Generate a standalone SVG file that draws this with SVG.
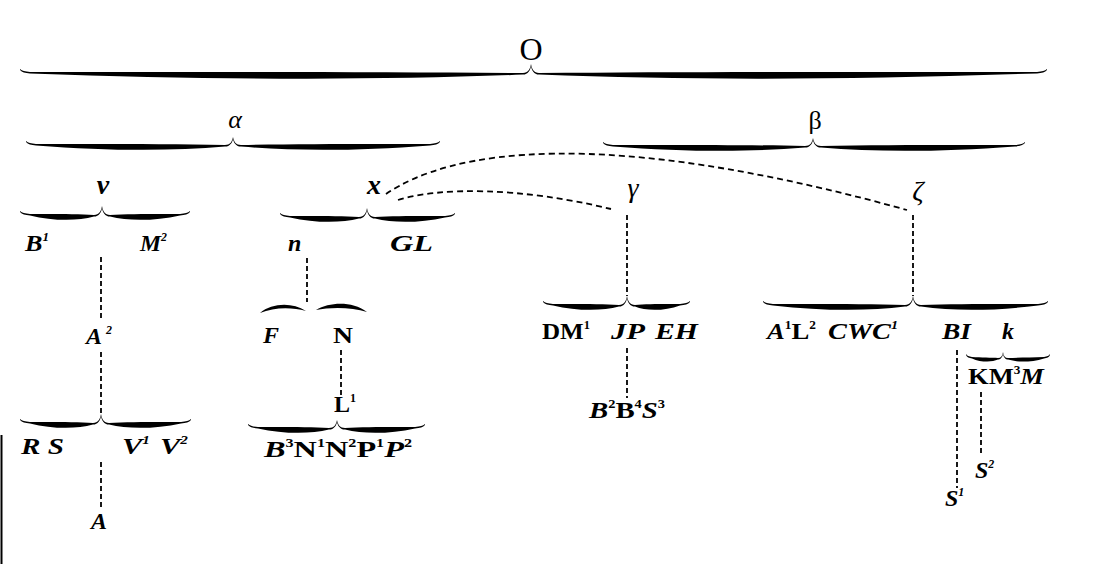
<svg xmlns="http://www.w3.org/2000/svg" width="1093" height="564" viewBox="0 0 1093 564">
<style>
.t{font-family:"Liberation Serif","Times New Roman",serif;font-weight:bold;font-size:24px;fill:#000}
.i{font-style:italic}
.s{font-size:12px}
.g{font-family:"Liberation Serif","Times New Roman",serif;font-size:28px;fill:#000}
.br{fill:#000}
.d{stroke:#000;stroke-width:1.8;fill:none;stroke-dasharray:6 4}
.v{stroke:#000;stroke-width:1.8;fill:none;stroke-dasharray:5 3}
</style>
<rect width="1093" height="564" fill="#fff"/>
<g id="connectors">
<path class="d" d="M386,194 C450,150 600,125 907,210"/>
<path class="d" d="M398,200 C440,187 520,187 611,209"/>
<line class="v" x1="101" y1="257" x2="101" y2="318"/>
<line class="v" x1="101" y1="352" x2="101" y2="413"/>
<line class="v" x1="101" y1="462" x2="101" y2="507"/>
<line class="v" x1="307" y1="258" x2="307" y2="302"/>
<line class="v" x1="341" y1="350" x2="341" y2="395"/>
<line class="v" x1="627" y1="215" x2="627" y2="296"/>
<line class="v" x1="913" y1="215" x2="913" y2="296"/>
<line class="v" x1="627" y1="348" x2="627" y2="398"/>
<line class="v" x1="957" y1="350" x2="957" y2="488"/>
<line class="v" x1="981" y1="392" x2="981" y2="456"/>
</g>
<g id="node-O">
<text class="g" x="531" y="60" text-anchor="middle" style="font-size:32px">O</text>
<path class="br" d="M531,64 C530,69.5 528,73 523,73 C377.7,71.8 224.4,71.8 30,72 C25,71.5 22,71 20,69 L20,70 C22,72.2 25,73.2 30,73.4 C224.4,80.2 377.7,80.2 523,74.6 C528,74.6 530.5,70 531,66 Z M531,64 C532,69.5 534,73 539,73 C685.8,71.8 840.6,71.8 1037,72 C1042,71.5 1045,71 1047,69 L1047,70 C1045,72.2 1042,73.2 1037,73.4 C840.6,80.2 685.8,80.2 539,74.6 C534,74.6 531.5,70 531,66 Z"/>
</g>
<g id="node-alpha">
<text class="g i" x="235" y="128" text-anchor="middle" style="font-size:26px">α</text>
<path class="br" d="M233,137 C232,142 230,145 225,145 C170.9,143.9 108.8,143.9 36,144 C31,143.5 28,143 26,141 L26,142 C28,144.2 31,145.2 36,145.4 C108.8,151.1 170.9,151.1 225,146.6 C230,146.6 232.5,142.4 233,139 Z M233,137 C234,142 236,145 241,145 C295.1,143.9 357.2,143.9 430,144 C435,143.5 438,143 440,141 L440,142 C438,144.2 435,145.2 430,145.4 C357.2,151.1 295.1,151.1 241,146.6 C236,146.6 233.5,142.4 233,139 Z"/>
</g>
<g id="node-beta">
<text class="g" x="815" y="129" text-anchor="middle" style="font-size:26px">β</text>
<path class="br" d="M813,138 C812,143 810,146 805,146 C750,144.9 687,144.9 613,145 C608,144.5 605,144 603,142 L603,143 C605,145.2 608,146.2 613,146.4 C687,152.1 750,152.1 805,147.6 C810,147.6 812.5,143.4 813,140 Z M813,138 C814,143 816,146 821,146 C876.6,144.9 940.2,144.9 1015,145 C1020,144.5 1023,144 1025,142 L1025,143 C1023,145.2 1020,146.2 1015,146.4 C940.2,152.1 876.6,152.1 821,147.6 C816,147.6 813.5,143.4 813,140 Z"/>
</g>
<g id="node-nu">
<text class="g i" x="103" y="194" text-anchor="middle" style="font-weight:bold">ν</text>
<path class="br" d="M102,206 C101,211.5 99,215 94,215 C77.4,213.9 52.8,213.9 30,214 C25,213.5 22,213 20,211 L20,212 C22,214.2 25,215.2 30,215.4 C52.8,221.1 77.4,221.1 94,216.6 C99,216.6 101.5,212 102,208 Z M102,206 C103,211.5 105,215 110,215 C128.4,213.9 154.8,213.9 180,214 C185,213.5 188,213 190,211 L190,212 C188,214.2 185,215.2 180,215.4 C154.8,221.1 128.4,221.1 110,216.6 C105,216.6 102.5,212 102,208 Z"/>
</g>
<g id="node-x">
<text class="g i" x="374" y="194" text-anchor="middle" style="font-weight:bold">x</text>
<path class="br" d="M367,208 C366,213.5 364,217 359,217 C340.9,215.9 314.8,215.9 290,216 C285,215.5 282,215 280,213 L280,214 C282,216.2 285,217.2 290,217.4 C314.8,223.1 340.9,223.1 359,218.6 C364,218.6 366.5,214 367,210 Z M367,208 C368,213.5 370,217 375,217 C393.4,215.9 419.8,215.9 445,216 C450,215.5 453,215 455,213 L455,214 C453,216.2 450,217.2 445,217.4 C419.8,223.1 393.4,223.1 375,218.6 C370,218.6 367.5,214 367,210 Z"/>
</g>
<g id="node-gamma">
<text class="g i" x="633" y="197" text-anchor="middle">γ</text>
<path class="br" d="M627,296 C626,301.5 624,305 619,305 C601.8,303.9 576.6,303.9 553,304 C548,303.5 545,303 543,301 L543,302 C545,304.2 548,305.2 553,305.4 C576.6,311.1 601.8,311.1 619,306.6 C624,306.6 626.5,302 627,298 Z M627,296 C628,301.5 630,305 635,305 C645.9,303.9 664.8,303.9 680,304 C685,303.5 688,303 690,301 L690,302 C688,304.2 685,305.2 680,305.4 C664.8,311.1 645.9,311.1 635,306.6 C630,306.6 627.5,302 627,298 Z"/>
</g>
<g id="node-zeta">
<text class="g i" x="918" y="200" text-anchor="middle">ζ</text>
<path class="br" d="M913,296 C912,301.5 910,305 905,305 C868,303.9 823,303.9 773,304 C768,303.5 765,303 763,301 L763,302 C765,304.2 768,305.2 773,305.4 C823,311.1 868,311.1 905,306.6 C910,306.6 912.5,302 913,298 Z M913,296 C914,301.5 916,305 921,305 C953.5,303.9 994,303.9 1038,304 C1043,303.5 1046,303 1048,301 L1048,302 C1046,304.2 1043,305.2 1038,305.4 C994,311.1 953.5,311.1 921,306.6 C916,306.6 913.5,302 913,298 Z"/>
</g>
<g id="node-B1"><text class="t i" x="25" y="251" textLength="24" lengthAdjust="spacingAndGlyphs">B<tspan class="s" dy="-10">1</tspan></text></g>
<g id="node-M2"><text class="t i" x="140" y="251" textLength="27" lengthAdjust="spacingAndGlyphs">M<tspan class="s" dy="-10">2</tspan></text></g>
<g id="node-n">
<text class="t i" x="288" y="251">n</text>
<path class="br" d="M260,313 C272,303 292,302 306,311 C292,307 274,307 260,313 Z M316,310 C330,302 352,301 367,312 C352,307 330,307 316,310 Z"/>
</g>
<g id="node-GL"><text class="t i" x="390" y="251" textLength="43" lengthAdjust="spacingAndGlyphs">GL</text></g>
<g id="node-A2">
<text class="t i" x="86" y="344">A<tspan class="s" dx="4" dy="-10">2</tspan></text>
<path class="br" d="M101,414 C100,419.5 98,423 93,423 C76.7,421.9 52.4,421.9 30,422 C25,421.5 22,421 20,419 L20,420 C22,422.2 25,423.2 30,423.4 C52.4,429.1 76.7,429.1 93,424.6 C98,424.6 100.5,420 101,416 Z M101,414 C102,419.5 104,423 109,423 C128,421.9 155,421.9 181,422 C186,421.5 189,421 191,419 L191,420 C189,422.2 186,423.2 181,423.4 C155,429.1 128,429.1 109,424.6 C104,424.6 101.5,420 101,416 Z"/>
</g>
<g id="node-F"><text class="t i" x="263" y="343">F</text></g>
<g id="node-N"><text class="t" x="333" y="343" textLength="20" lengthAdjust="spacingAndGlyphs">N</text></g>
<g id="node-L1">
<text class="t" x="334" y="412">L<tspan class="s" dy="-10">1</tspan></text>
<path class="br" d="M337,420 C336,425 334,428 329,428 C310.3,426.9 283.6,426.9 258,427 C253,426.5 250,426 248,424 L248,425 C250,427.2 253,428.2 258,428.4 C283.6,434.1 310.3,434.1 329,429.6 C334,429.6 336.5,425.4 337,422 Z M337,420 C338,425 340,428 345,428 C363.4,426.9 389.8,426.9 415,427 C420,426.5 423,426 425,424 L425,425 C423,427.2 420,428.2 415,428.4 C389.8,434.1 363.4,434.1 345,429.6 C340,429.6 337.5,425.4 337,422 Z"/>
</g>
<g id="node-RS"><text class="t i" x="21" y="454" textLength="43" lengthAdjust="spacingAndGlyphs">R S</text></g>
<g id="node-V"><text class="t i" x="122" y="454" textLength="66" lengthAdjust="spacingAndGlyphs">V<tspan class="s" dy="-10">1</tspan><tspan dx="8" dy="10">V</tspan><tspan class="s" dy="-10">2</tspan></text></g>
<g id="node-B3"><text class="t" x="264" y="457" textLength="148" lengthAdjust="spacingAndGlyphs"><tspan class="i">B</tspan><tspan class="s" dy="-10">3</tspan><tspan dy="10">N</tspan><tspan class="s" dy="-10">1</tspan><tspan dy="10">N</tspan><tspan class="s" dy="-10">2</tspan><tspan dy="10">P</tspan><tspan class="s" dy="-10">1</tspan><tspan class="i" dy="10">P</tspan><tspan class="s" dy="-10">2</tspan></text></g>
<g id="node-A"><text class="t i" x="91" y="529">A</text></g>
<g id="node-DM1"><text class="t" x="542" y="339" textLength="48" lengthAdjust="spacingAndGlyphs">DM<tspan class="s" dy="-10">1</tspan></text></g>
<g id="node-JP"><text class="t i" x="611" y="339" textLength="34" lengthAdjust="spacingAndGlyphs">JP</text></g>
<g id="node-EH"><text class="t i" x="655" y="339" textLength="43" lengthAdjust="spacingAndGlyphs">EH</text></g>
<g id="node-A1L2"><text class="t" x="767" y="339" textLength="49" lengthAdjust="spacingAndGlyphs"><tspan class="i">A</tspan><tspan class="s" dy="-10">1</tspan><tspan dy="10">L</tspan><tspan class="s" dy="-10">2</tspan></text></g>
<g id="node-CWC1"><text class="t i" x="828" y="339" textLength="70" lengthAdjust="spacingAndGlyphs">CWC<tspan class="s" dy="-10">1</tspan></text></g>
<g id="node-BI"><text class="t i" x="942" y="339" textLength="29" lengthAdjust="spacingAndGlyphs">BI</text></g>
<g id="node-k">
<text class="t i" x="1002" y="339">k</text>
<path class="br" d="M1003,352 C1002.5,356 1001,358 998,358 C991.9,357.6 980.8,357.6 972,357 C969,356.5 967,356 966,354 L966,355 C967,357.2 969,358.2 972,358.4 C980.8,362.4 991.9,362.4 998,359.6 C1001,359.6 1002.7,356.2 1003,354 Z M1003,352 C1003.5,356 1005,358 1008,358 C1017.1,357.6 1031.2,357.6 1044,357 C1047,356.5 1049,356 1050,354 L1050,355 C1049,357.2 1047,358.2 1044,358.4 C1031.2,362.4 1017.1,362.4 1008,359.6 C1005,359.6 1003.3,356.2 1003,354 Z"/>
</g>
<g id="node-KM3M"><text class="t" x="968" y="384" textLength="76" lengthAdjust="spacingAndGlyphs">KM<tspan class="s" dy="-10">3</tspan><tspan class="i" dy="10">M</tspan></text></g>
<g id="node-B2B4S3"><text class="t" x="589" y="418" textLength="76" lengthAdjust="spacingAndGlyphs"><tspan class="i">B</tspan><tspan class="s" dy="-10">2</tspan><tspan dy="10">B</tspan><tspan class="s" dy="-10">4</tspan><tspan class="i" dy="10">S</tspan><tspan class="s" dy="-10">3</tspan></text></g>
<g id="node-S2"><text class="t i" x="975" y="478">S<tspan class="s" dy="-10">2</tspan></text></g>
<g id="node-S1"><text class="t i" x="945" y="506">S<tspan class="s" dy="-10">1</tspan></text></g>
<line x1="1.5" y1="435" x2="1.5" y2="564" stroke="#000" stroke-width="2"/>
</svg>
